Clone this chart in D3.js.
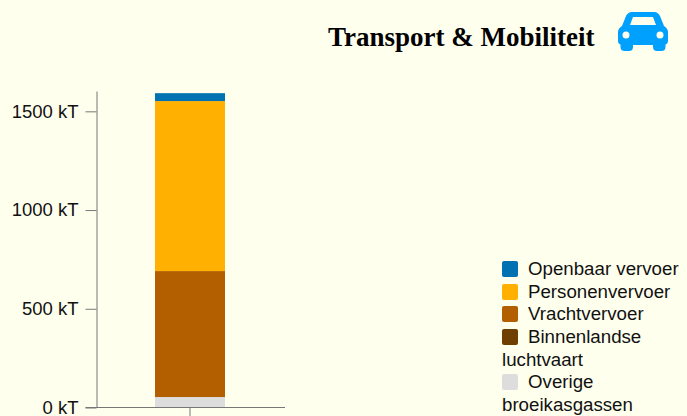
<!DOCTYPE html>
<html><head><meta charset="utf-8">
<script src="https://cdn.jsdelivr.net/npm/d3@7"></script>
<style>
html,body{margin:0;padding:0;background:#ffffee;overflow:hidden}
svg{position:absolute;left:0;top:0}
#legend{position:absolute;left:502px;top:258px;width:185px;font:18.7px/22.65px "Liberation Sans",Arial,sans-serif;color:#111}
#legend .sw{display:inline-block;width:16px;height:16px;border-radius:2px;margin-right:10px;vertical-align:-2px}
</style></head><body>
<svg id="c" width="687" height="416"></svg>
<div id="legend"></div>
<script>
const categories=["Openbaar vervoer","Personenvervoer","Vrachtvervoer","Binnenlandse luchtvaart","Overige broeikasgassen"];
const colors=["#0072b2","#ffb000","#b35f00","#6e3f00","#dddddd"];
const values=[40,861,638,0,53];
const tickValues=[0,500,1000,1500];
const svg=d3.select("#c");
const y=d3.scaleLinear().domain([0,1603]).range([407.5,91]);
const x=d3.scaleBand().domain(["Transport"]).range([96,284]);
const stack=d3.stack().keys(d3.range(categories.length).reverse()).value((d,k)=>d[k]);
const series=stack([values]);
const bw=70,bx=x("Transport")+(x.bandwidth()-bw)/2;
svg.selectAll("rect.seg").data(series).join("rect").attr("class","seg")
  .attr("x",bx).attr("width",bw)
  .attr("y",d=>y(d[0][1])).attr("height",d=>y(d[0][0])-y(d[0][1]))
  .attr("fill",d=>colors[d.key]);
const yg=svg.append("g").attr("transform","translate(96.5,0)")
  .call(d3.axisLeft(y).tickValues(tickValues).tickSize(11).tickSizeOuter(0).tickFormat(d=>d+" kT"));
yg.selectAll("text").attr("font-family","Liberation Sans,Arial,sans-serif").attr("font-size",18.5).attr("fill","#111").attr("x",-18);
yg.selectAll("line,path").attr("stroke","#777");
const xg=svg.append("g").attr("transform","translate(0,407.5)");
xg.append("line").attr("x1",85.500).attr("x2",285).attr("stroke","#777");
xg.append("line").attr("x1",190).attr("x2",190).attr("y2",9).attr("stroke","#777");
svg.append("text").attr("x",328).attr("y",46).attr("font-family","Liberation Serif,Times New Roman,serif")
  .attr("font-weight","bold").attr("font-size",27).attr("fill","#000").text("Transport & Mobiliteit");
svg.append("path").attr("transform","translate(618,12)").attr("fill","#00a0ff").attr("fill-rule","evenodd")
  .attr("d","M14 0H36C39 0 41 2 42 4L46 14C48.500 15.500 50 17.500 50 20V29C50 31 49 32 47.500 32.500V35C47.500 38 45.500 39 43.500 39H39C37 39 35 38 35 35V33H15V35C15 38 13 39 11 39H6.500C4.500 39 2.500 38 2.500 35V32.500C1 32 0 31 0 29V20C0 17.500 1.500 15.500 4 14L8 4C9 2 11 0 14 0ZM15 5L12 13H38L35 5ZM8 19.500A3.500 3.500 0 1 0 8 26.500A3.500 3.500 0 1 0 8 19.500ZM42 19.500A3.500 3.500 0 1 0 42 26.500A3.500 3.500 0 1 0 42 19.500Z");
const leg=d3.select("#legend");
categories.forEach((c,i)=>{
  const row=leg.append("div");
  row.append("span").attr("class","sw").style("background",colors[i]);
  row.append("span").text(c);
});
</script>
</body></html>
